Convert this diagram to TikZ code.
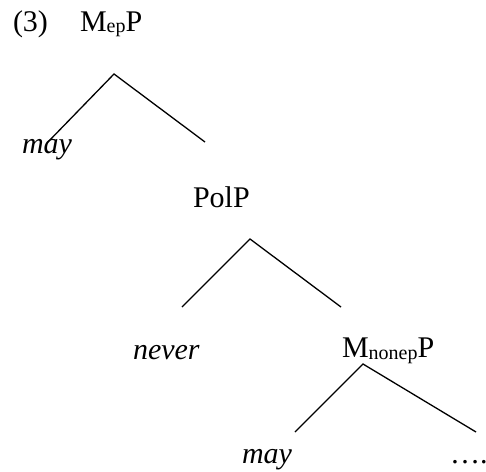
\documentclass[tikz,border=0pt]{standalone}
\usepackage{fontspec}
\setmainfont{Liberation Serif}
\usetikzlibrary{positioning}

\newcommand{\lowsub}[1]{\raisebox{-1pt}{\fontsize{10}{11}\selectfont #1}}

\begin{document}
\begin{tikzpicture}[x=0.5pt,y=-0.5pt,
  every node/.style={inner sep=0pt,outer sep=0pt,anchor=base west,font=\fontsize{15}{18}\selectfont},
  branch/.style={line width=0.65pt}]

\useasboundingbox (0,0) rectangle (486,471);

% labels of the tree
\node (ex)     at (13,32)  {(3)};
\node (mep)    at (80,31)  {M\lowsub{ep}P};
\node (mayA)   at (22,153) {\textit{may}};
\node (pol)    at (193,207) {PolP};
\node (never)  at (133,359) {\textit{never}};
\node (mnonep) at (342,357) {M\lowsub{nonep}P};
\node (mayB)   at (242,463) {\textit{may}};
\node (dots)   at (450,463) {….};

% apex and feet of each branching
\coordinate (topA) at (114,74);  \coordinate (lA) at (47,143);  \coordinate (rA) at (205,142);
\coordinate (topB) at (250,239); \coordinate (lB) at (182,307); \coordinate (rB) at (341,307);
\coordinate (topC) at (363,364); \coordinate (lC) at (295,432); \coordinate (rC) at (476,432);

\foreach \t in {A,B,C}
  \draw [branch] (l\t) -- (top\t) -- (r\t);

\end{tikzpicture}
\end{document}
